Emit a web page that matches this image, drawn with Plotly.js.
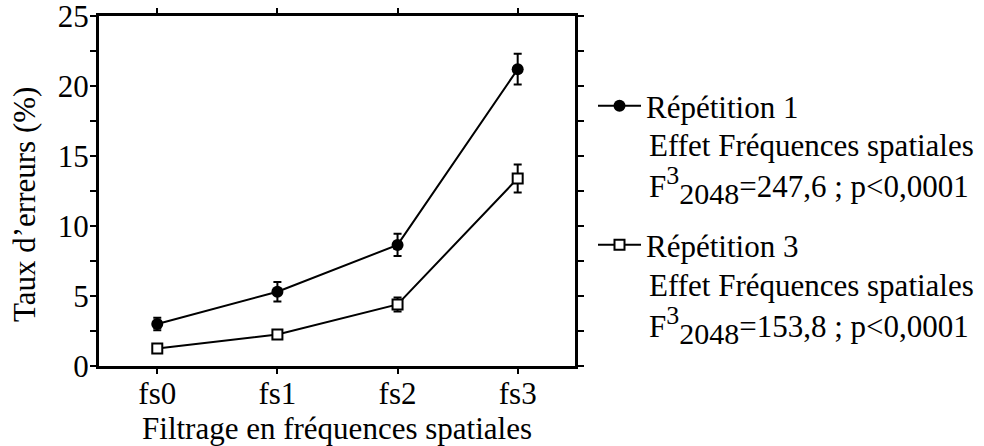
<!DOCTYPE html>
<html>
<head>
<meta charset="utf-8">
<script src="https://cdn.plot.ly/plotly-3.0.1.min.js"></script>
<style>
  html, body { margin: 0; padding: 0; background: #fff; }
  #chart { width: 984px; height: 446px; }
</style>
</head>
<body>
<div id="chart"></div>
<script>
// Spatial-frequency filtering levels
const categories = ['fs0', 'fs1', 'fs2', 'fs3'];

// Error rate (%) per filtering level, with error-bar half widths
const rep1Values = [3.0, 5.3, 8.65, 21.2];
const rep1Errors = [0.45, 0.7, 0.8, 1.1];
const rep3Values = [1.25, 2.25, 4.4, 13.4];
const rep3Errors = [0.2, 0.2, 0.5, 1.0];

// Series names and statistics shown beside the plot
const seriesNames = ['Répétition 1', 'Répétition 3'];
const effectLabel = 'Effet Fréquences spatiales';
const fValues = ['247,6', '153,8'];
const pLabel = 'p&lt;0,0001';

const yTicks = [0, 5, 10, 15, 20, 25];

const FONT = 'Liberation Serif';
const FS = 31;

const traces = [
  {
    x: categories, y: rep1Values, name: seriesNames[0], legend: 'legend',
    type: 'scatter', mode: 'lines+markers',
    line: { color: '#000', width: 2 },
    marker: { symbol: 'circle', size: 12, color: '#000' },
    error_y: { type: 'data', array: rep1Errors, visible: true, color: '#000', thickness: 2, width: 4 }
  },
  {
    x: categories, y: rep3Values, name: seriesNames[1], legend: 'legend2',
    type: 'scatter', mode: 'lines+markers',
    line: { color: '#000', width: 2 },
    marker: { symbol: 'square', size: 10, color: '#fff', line: { color: '#000', width: 2 } },
    error_y: { type: 'data', array: rep3Errors, visible: true, color: '#000', thickness: 2, width: 4 }
  }
];

const plotTop = 16, plotBottom = 366, plotLeft = 99, plotRight = 575;
const H = 446, W = 984;
const py = pix => (plotBottom - pix) / (plotBottom - plotTop);
const px = pix => (pix - plotLeft) / (plotRight - plotLeft);

const statLine = f => 'F<sup><span style="font-size:26px">3</span></sup>' +
  '<sub><span style="font-size:30px">2048</span></sub>=' + f + ' ; ' + pLabel;

const textAnn = (text, xp, yp) => ({
  text: text, xref: 'paper', yref: 'paper', x: px(xp), y: py(yp),
  xanchor: 'left', yanchor: 'middle', showarrow: false,
  font: { family: FONT, size: FS, color: '#000' }
});

const legendBox = yPix => ({
  xref: 'container', yref: 'container', x: 593 / W, y: 1 - yPix / H,
  xanchor: 'left', yanchor: 'middle', bgcolor: 'rgba(0,0,0,0)', borderwidth: 0,
  itemwidth: 43,
  font: { family: FONT, size: FS, color: '#000' }
});

const layout = {
  width: W, height: H,
  margin: { l: plotLeft, r: W - plotRight, t: plotTop, b: H - plotBottom },
  paper_bgcolor: '#fff', plot_bgcolor: '#fff',
  font: { family: FONT, size: FS, color: '#000' },
  xaxis: {
    type: 'category', range: [-0.485, 3.477],
    showline: true, linecolor: '#000', linewidth: 3, mirror: 'allticks',
    ticks: 'outside', ticklen: 5, tickwidth: 2, tickcolor: '#000',
    ticklabelstandoff: -7,
    showgrid: false, zeroline: false,
    tickfont: { family: FONT, size: FS, color: '#000' },
    title: { text: 'Filtrage en fréquences spatiales', font: { family: FONT, size: FS, color: '#000' }, standoff: 0 }
  },
  yaxis: {
    range: [0, 25], tickvals: yTicks, ticktext: yTicks.map(String),
    ticklabeloverflow: 'allow', ticklabelstandoff: -5,
    showline: true, linecolor: '#000', linewidth: 3, mirror: 'allticks',
    ticks: 'outside', ticklen: 6, tickwidth: 2, tickcolor: '#000',
    minor: { dtick: 2.5, ticks: 'outside', ticklen: 6, tickwidth: 2, tickcolor: '#000', showgrid: false },
    showgrid: false, zeroline: false,
    tickfont: { family: FONT, size: FS, color: '#000' }
  },
  legend: legendBox(106),
  legend2: legendBox(245),
  showlegend: true,
  annotations: [
    {
      text: 'Taux d’erreurs (%)', xref: 'paper', yref: 'paper',
      x: px(24), y: py(205), textangle: -90, showarrow: false,
      xanchor: 'center', yanchor: 'middle',
      font: { family: FONT, size: FS, color: '#000' }
    },
    textAnn(effectLabel, 647, 145),
    textAnn(statLine(fValues[0]), 647, 185),
    textAnn(effectLabel, 647, 285),
    textAnn(statLine(fValues[1]), 647, 325)
  ]
};

Plotly.newPlot('chart', traces, layout, { displayModeBar: false, staticPlot: true });
</script>
</body>
</html>
